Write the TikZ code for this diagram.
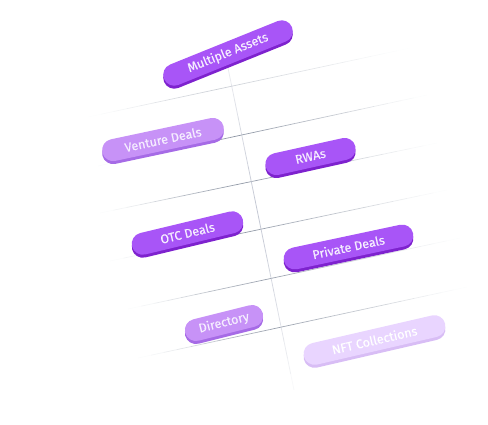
\documentclass[tikz,border=0pt]{standalone}
\usepackage{fontspec}
\setmainfont{Fira Sans}
\newfontfamily\pillfont{Fira Sans}[FakeBold=0.35]
\usetikzlibrary{calc}

\definecolor{pillpurple}{HTML}{A855F7}
\definecolor{pilledge}{HTML}{7E22CE}
\definecolor{pilllight}{HTML}{C792F7}
\definecolor{lightedge}{HTML}{A66BE6}
\definecolor{pillpale}{HTML}{E9D5FF}
\definecolor{paleedge}{HTML}{D8BDF5}
\definecolor{pilltext}{HTML}{F5EDFF}
\definecolor{gridline}{HTML}{7F8898}
\definecolor{axisline}{HTML}{C3C7D3}

\tikzset{
  pill/.style={rectangle, rounded corners=11pt, minimum height=22pt, inner sep=0pt,
    font=\pillfont\fontsize{12.5}{13}\selectfont, text=pilltext},
  gridrule/.style={gridline, line width=0.7pt},
}

\begin{document}
\begin{tikzpicture}[x=1pt, y=-1pt]
  \useasboundingbox (0,0) rectangle (488,424);

  % the rows, darkest near the column and fading out at both ends
  \foreach \name/\xa/\ya/\xb/\yb/\peak in {a/88/117/410/48/0.4, b/98/166/427/95/0.9, c/100/213/437/143/0.85,
                                           d/110/261/447/190/0.85, e/128/309/460/238/0.8, f/138/358/467/287/0.8} {
    \coordinate (\name-w) at (\xa,\ya);
    \coordinate (\name-e) at (\xb,\yb);
    \foreach \k in {0,...,24} {
      \pgfmathsetmacro\t{(\k+0.5)/25}
      \pgfmathsetmacro\op{\peak*(0.22+0.78*max(0,1-abs(\t-0.42)/0.58)^1.5)*min(1,4*min(\t,1-\t))}
      \draw[gridrule, opacity=\op] ($(\name-w)!\k/25!(\name-e)$) -- ($(\name-w)!\k/25+0.04!(\name-e)$);
    }
  }

  % the column
  \coordinate (col-n) at (228,68);
  \coordinate (col-s) at (294,390);
  \foreach \k in {0,...,19} {
    \pgfmathsetmacro\op{max(0,1-abs((\k+0.5)/20-0.45)/0.55)^0.7}
    \draw[axisline, line width=0.8pt, opacity=\op] ($(col-n)!\k/20!(col-s)$) -- ($(col-n)!\k/20+0.05!(col-s)$);
  }

  % pills: the darker copy first, then the face
  \node[pill, fill=pilledge, minimum width=138pt, rotate=22] (multi-edge) at (228,56) {};
  \node[pill, fill=pillpurple, minimum width=138pt, rotate=22] (multi) at (228,53) {Multiple Assets};

  \node[pill, fill=lightedge, minimum width=124pt, rotate=12] (venture-edge) at (163,142.5) {};
  \node[pill, fill=pilllight, minimum width=124pt, rotate=12] (venture) at (163,139.5) {Venture Deals};

  \node[pill, fill=pilledge, minimum width=92pt, rotate=12.5] (rwa-edge) at (310.5,159.5) {};
  \node[pill, fill=pillpurple, minimum width=92pt, rotate=12.5] (rwa) at (310.5,156.5) {RWAs};

  \node[pill, fill=pilledge, minimum width=114pt, rotate=13.5] (otc-edge) at (187.5,236) {};
  \node[pill, fill=pillpurple, minimum width=114pt, rotate=13.5] (otc) at (187.5,233) {OTC Deals};

  \node[pill, fill=pilledge, minimum width=132pt, rotate=12] (private-edge) at (348.5,250) {};
  \node[pill, fill=pillpurple, minimum width=132pt, rotate=12] (private) at (348.5,247) {Private Deals};

  \node[pill, fill=lightedge, minimum width=80pt, rotate=14] (directory-edge) at (224,326) {};
  \node[pill, fill=pilllight, minimum width=80pt, rotate=14] (directory) at (224,323) {Directory};

  \node[pill, fill=paleedge, minimum width=145pt, rotate=13] (nft-edge) at (374.5,343) {};
  \node[pill, fill=pillpale, minimum width=145pt, rotate=13, text=white] (nft) at (374.5,340) {NFT Collections};
\end{tikzpicture}
\end{document}
